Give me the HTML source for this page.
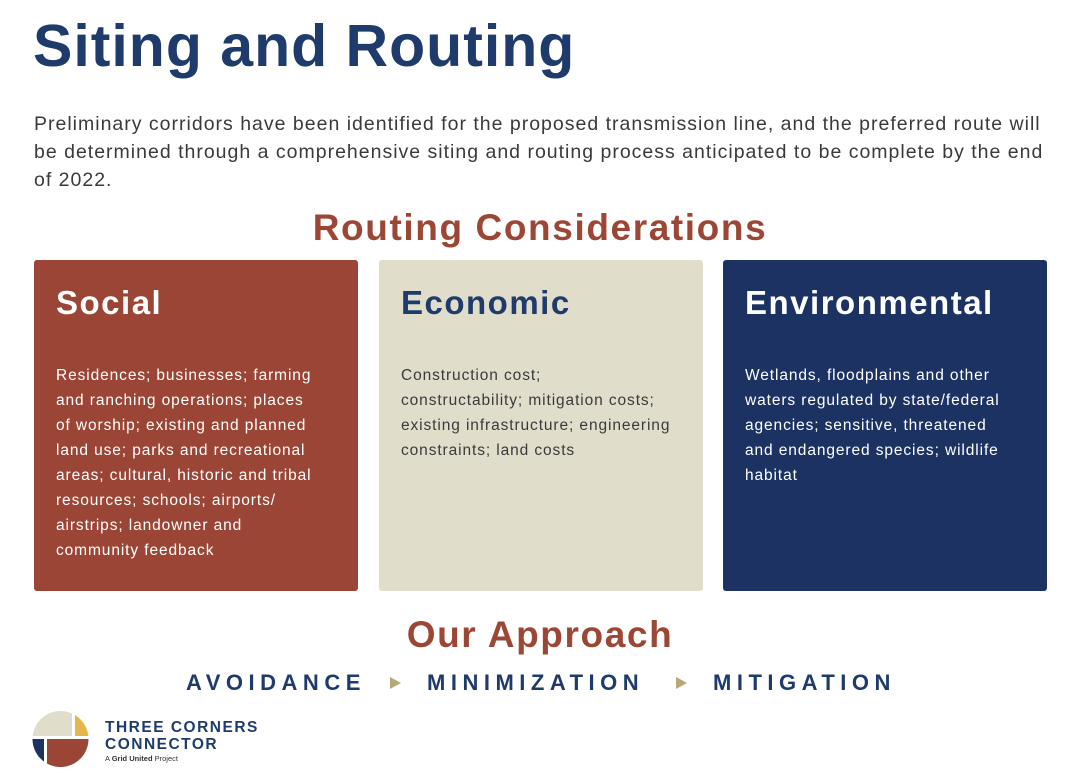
<!DOCTYPE html>
<html><head><meta charset="utf-8"><style>
body{margin:0;width:1080px;height:770px;background:#fff;font-family:"Liberation Sans",sans-serif;position:relative;overflow:hidden}
.a{position:absolute}
h1{position:absolute;left:33px;top:12px;margin:0;font-size:59px;color:#1e3b6b;font-weight:bold;letter-spacing:1px;white-space:nowrap}
.intro{left:34px;top:110px;width:1040px;font-size:19.5px;line-height:28px;color:#3a3a3a;letter-spacing:1px;white-space:nowrap}
.h2{font-size:37px;font-weight:bold;color:#9c4636;width:1080px;text-align:center;letter-spacing:1.6px}
.box{top:260px;width:324px;height:331px;border-radius:3px}
.box .t{position:absolute;left:22px;top:24px;font-size:33px;font-weight:bold;letter-spacing:1.5px;white-space:nowrap}
.box .d{position:absolute;left:22px;top:103px;width:300px;font-size:15.5px;line-height:25px;letter-spacing:0.9px;white-space:nowrap}
.ap{top:670px;font-size:22px;font-weight:bold;color:#1e3b6b;letter-spacing:5.5px;white-space:nowrap}
.tri{width:0;height:0;border-left:11px solid #b8a77a;border-top:6.5px solid transparent;border-bottom:6.5px solid transparent}
</style></head><body>
<h1>Siting and Routing</h1>
<div class="a intro">Preliminary corridors have been identified for the proposed transmission line, and the preferred route will<br>be determined through a comprehensive siting and routing process anticipated to be complete by the end<br>of 2022.</div>
<div class="a h2" style="top:207px;left:0">Routing Considerations</div>
<div class="a box" style="left:34px;background:#9a4535;color:#fff"><div class="t">Social</div><div class="d">Residences; businesses; farming<br>and ranching operations; places<br>of worship; existing and planned<br>land use; parks and recreational<br>areas; cultural, historic and tribal<br>resources; schools; airports/<br>airstrips; landowner and<br>community feedback</div></div>
<div class="a box" style="left:379px;background:#e1ddcb;color:#3a3a3a"><div class="t" style="color:#1e3b6b">Economic</div><div class="d">Construction cost;<br>constructability; mitigation costs;<br>existing infrastructure; engineering<br>constraints; land costs</div></div>
<div class="a box" style="left:723px;background:#1b3263;color:#fff"><div class="t">Environmental</div><div class="d">Wetlands, floodplains and other<br>waters regulated by state/federal<br>agencies; sensitive, threatened<br>and endangered species; wildlife<br>habitat</div></div>
<div class="a h2" style="top:614px;left:0">Our Approach</div>
<div class="a ap" style="left:186px">AVOIDANCE</div>
<div class="a tri" style="left:390px;top:677px"></div>
<div class="a ap" style="left:427px">MINIMIZATION</div>
<div class="a tri" style="left:676px;top:677px"></div>
<div class="a ap" style="left:713px">MITIGATION</div>
<svg class="a" style="left:0;top:0" width="300" height="770">
<defs><clipPath id="c"><circle cx="60.5" cy="739" r="28"/></clipPath></defs>
<g clip-path="url(#c)">
<rect x="30" y="705" width="42" height="31" fill="#e1ddcb"/>
<rect x="75" y="705" width="20" height="31" fill="#e5b64a"/>
<rect x="30" y="739" width="14" height="35" fill="#1b3263"/>
<rect x="47" y="739" width="50" height="35" fill="#9a4535"/>
</g>
<text x="105" y="732" font-family="Liberation Sans" font-weight="bold" font-size="15.5" fill="#1e3b6b" letter-spacing="1.5">THREE CORNERS</text>
<text x="105" y="749" font-family="Liberation Sans" font-weight="bold" font-size="15.5" fill="#1e3b6b" letter-spacing="1.5">CONNECTOR</text>
</svg>
<div class="a" style="left:105px;top:754px;font-size:7.5px;color:#333">A <b>Grid United</b> Project</div>
</body></html>
